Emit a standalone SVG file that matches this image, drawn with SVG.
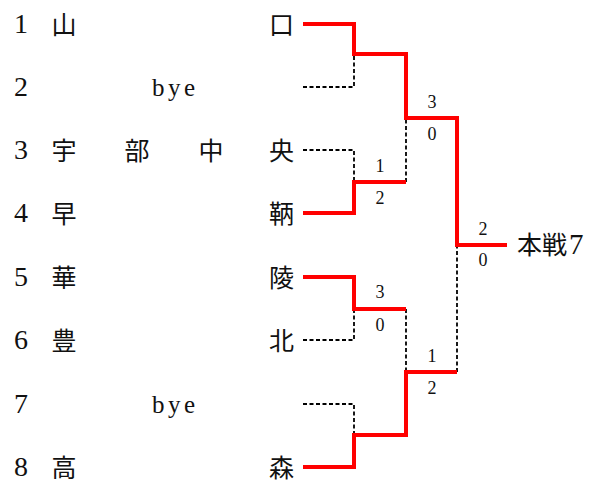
<svg xmlns="http://www.w3.org/2000/svg" width="605" height="484" viewBox="0 0 605 484">
<style>
text{font-family:"Liberation Serif","Noto Sans CJK JP",serif;fill:#111}
.t{font-size:25px}
.n{font-size:28px;text-anchor:middle}
.s{font-size:18px;text-anchor:middle}
.m{text-anchor:middle}
.e{text-anchor:end}
.win{fill:none;stroke:#ff0000;stroke-width:4;stroke-linejoin:miter}
.lose{fill:none;stroke:#000;stroke-width:1.8;stroke-dasharray:4 2.5}
</style>
<rect width="605" height="484" fill="#fff"/>
<g id="connectors">
<path class="lose" d="M303,87 H354 V54"/>
<path class="lose" d="M303,150 H354 V182"/>
<path class="lose" d="M406,182 V118"/>
<path class="lose" d="M303,340 H354 V309"/>
<path class="lose" d="M406,309 V372"/>
<path class="lose" d="M303,404 H354 V435"/>
<path class="lose" d="M457,372 V245"/>
<path class="win" d="M303,24 H354 V54 H406 V118 H457 V245 H507"/>
<path class="win" d="M303,213 H354 V182 H406"/>
<path class="win" d="M303,277 H354 V309 H406"/>
<path class="win" d="M303,467 H354 V435 H406 V372 H457"/>
</g>
<g id="team1"><text class="n" x="21" y="33">1</text><text class="t m" x="64" y="34">山</text><text class="t e" x="294" y="34">口</text></g>
<g id="team2"><text class="n" x="21" y="96">2</text><text class="t m" x="173.5" y="96" textLength="43">bye</text></g>
<g id="team3"><text class="n" x="21" y="159">3</text><text class="t m" x="64" y="160">宇</text><text class="t m" x="137" y="160">部</text><text class="t m" x="211" y="160">中</text><text class="t e" x="294" y="160">央</text></g>
<g id="team4"><text class="n" x="21" y="222">4</text><text class="t m" x="64" y="223">早</text><text class="t e" x="294" y="223">鞆</text></g>
<g id="team5"><text class="n" x="21" y="286">5</text><text class="t m" x="64" y="287">華</text><text class="t e" x="294" y="287">陵</text></g>
<g id="team6"><text class="n" x="21" y="349">6</text><text class="t m" x="64" y="350">豊</text><text class="t e" x="294" y="350">北</text></g>
<g id="team7"><text class="n" x="21" y="413">7</text><text class="t m" x="173.5" y="413" textLength="43">bye</text></g>
<g id="team8"><text class="n" x="21" y="476">8</text><text class="t m" x="64" y="477">高</text><text class="t e" x="294" y="477">森</text></g>
<g id="scores">
<text class="s" x="380" y="172">1</text><text class="s" x="380" y="204">2</text>
<text class="s" x="432" y="108">3</text><text class="s" x="432" y="140">0</text>
<text class="s" x="380" y="298">3</text><text class="s" x="380" y="331">0</text>
<text class="s" x="432" y="362">1</text><text class="s" x="432" y="394">2</text>
<text class="s" x="483" y="235">2</text><text class="s" x="483" y="266">0</text>
</g>
<g id="result"><text class="t" x="517" y="254">本戦<tspan x="569" font-size="29" style="font-family:'Liberation Serif',serif">7</tspan></text></g>
</svg>
